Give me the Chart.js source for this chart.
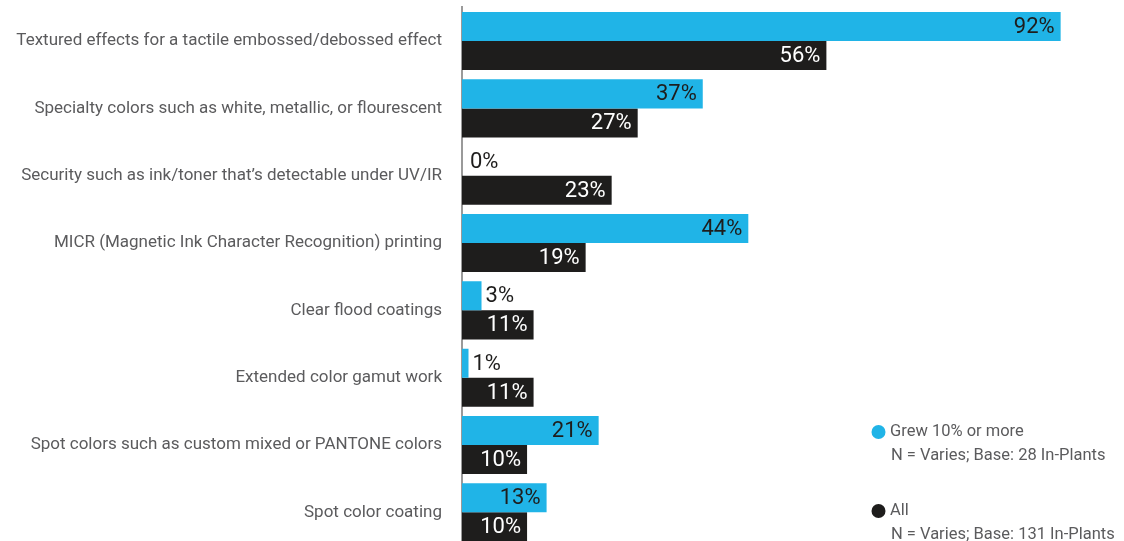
<!DOCTYPE html>
<html>
<head>
<meta charset="utf-8">
<script src="https://cdn.jsdelivr.net/npm/chart.js@4.4.1/dist/chart.umd.min.js"></script>
<style>
  html, body { margin: 0; padding: 0; background: #fff; overflow: hidden; }
  #wrap { width: 1124px; height: 546px; }
</style>
</head>
<body>
<div id="wrap"><canvas id="techChart" width="1124" height="546"></canvas></div>
<script>
const categories = [
    'Textured effects for a tactile embossed/debossed effect',
    'Specialty colors such as white, metallic, or flourescent',
    'Security such as ink/toner that\u2019s detectable under UV/IR',
    'MICR (Magnetic Ink Character Recognition) printing',
    'Clear flood coatings',
    'Extended color gamut work',
    'Spot colors such as custom mixed or PANTONE colors',
    'Spot color coating'
];
const grewValues = [92, 37, 0, 44, 3, 1, 21, 13];
const allValues = [56, 27, 23, 19, 11, 11, 10, 10];

const seriesNames = ['Grew 10% or more', 'All'];
const seriesNotes = ['N = Varies; Base: 28 In-Plants', 'N = Varies; Base: 131 In-Plants'];

const BLUE = '#20b4e7';
const DARK = '#1e1d1c';
const GREY_TEXT = '#5b5b5d';
const FONT = 'Roboto, "Noto Sans", sans-serif';

// percent labels: inside the bar end when they fit, otherwise just past it
const valueLabels = {
    id: 'valueLabels',
    afterDatasetsDraw(chart) {
        const ctx = chart.ctx;
        ctx.save();
        ctx.font = '22px ' + FONT;
        ctx.textBaseline = 'middle';
        chart.data.datasets.forEach((ds, i) => {
            const meta = chart.getDatasetMeta(i);
            meta.data.forEach((bar, j) => {
                const txt = ds.data[j] + '%';
                const w = ctx.measureText(txt).width;
                const barLen = bar.x - bar.base;
                if (w + 12 < barLen) {
                    ctx.textAlign = 'right';
                    ctx.fillStyle = i === 0 ? DARK : '#ffffff';
                    ctx.fillText(txt, bar.x - 6, bar.y + 1);
                } else {
                    ctx.textAlign = 'left';
                    ctx.fillStyle = DARK;
                    ctx.fillText(txt, Math.max(bar.x + 4, bar.base + 8), bar.y + 1);
                }
            });
        });
        ctx.restore();
    }
};

// legend block in the lower right corner
const sideLegend = {
    id: 'sideLegend',
    afterDraw(chart) {
        const ctx = chart.ctx;
        const colors = [BLUE, DARK];
        const tops = [432, 511];
        ctx.save();
        ctx.textBaseline = 'middle';
        ctx.textAlign = 'left';
        ctx.font = '16.5px ' + FONT;
        seriesNames.forEach((name, i) => {
            ctx.beginPath();
            ctx.arc(878.5, tops[i], 7, 0, Math.PI * 2);
            ctx.fillStyle = colors[i];
            ctx.fill();
            ctx.fillStyle = GREY_TEXT;
            ctx.fillText(name, 890, tops[i]);
            ctx.fillText(seriesNotes[i], 891, tops[i] + 24);
        });
        ctx.restore();
    }
};

new Chart(document.getElementById('techChart'), {
    type: 'bar',
    data: {
        labels: categories,
        datasets: [
            { label: seriesNames[0], data: grewValues, backgroundColor: BLUE },
            { label: seriesNames[1], data: allValues, backgroundColor: DARK }
        ]
    },
    options: {
        indexAxis: 'y',
        responsive: false,
        animation: false,
        devicePixelRatio: 1,
        layout: { padding: { top: 7.4, right: 11.3, bottom: 0, left: 0 } },
        datasets: { bar: { categoryPercentage: 0.862, barPercentage: 1.0 } },
        scales: {
            x: { display: false, min: 0, max: 100 },
            y: {
                grid: { display: false, drawTicks: false },
                border: { display: true, color: '#9a9a9a', width: 2 },
                ticks: {
                    color: GREY_TEXT,
                    padding: 20,
                    font: { family: FONT, size: 17 }
                },
                afterFit(scale) {
                    scale.width = 462;
                    scale.paddingTop = 0;
                    scale.paddingBottom = 0;
                }
            }
        },
        plugins: {
            legend: { display: false },
            tooltip: { enabled: false }
        }
    },
    plugins: [valueLabels, sideLegend]
});
</script>
</body>
</html>
